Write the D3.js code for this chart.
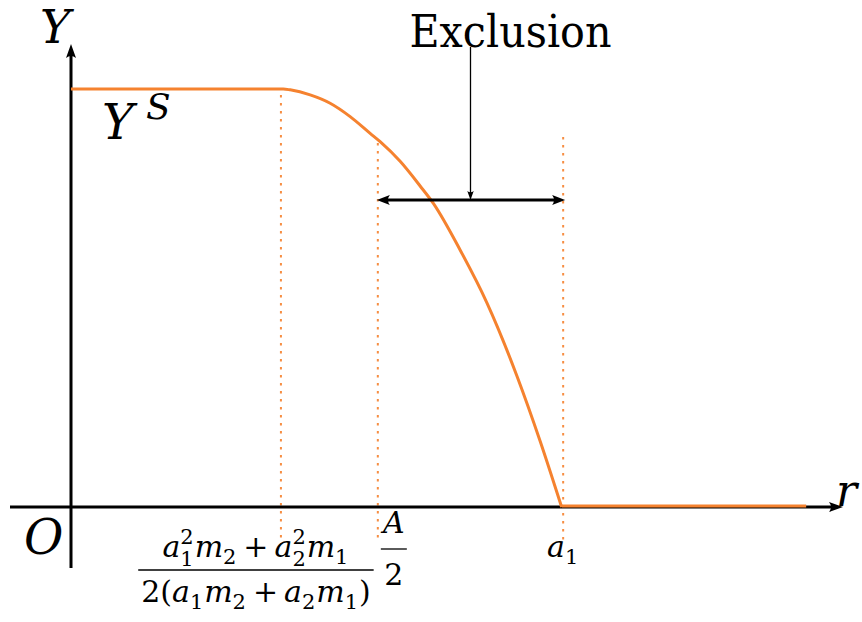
<!DOCTYPE html>
<html>
<head>
<meta charset="utf-8">
<script src="https://cdn.jsdelivr.net/npm/d3@7"></script>
<style>
  html, body { margin: 0; padding: 0; background: #fff; }
  svg { display: block; }
</style>
</head>
<body>
<svg id="chart" width="862" height="622"></svg>
<script>
// Saturated output profile Y(r): flat at Y^S, then falling to zero at a1.
const curveR = [0, 25.9, 27.6, 28.5, 31.1, 33.7, 36.3, 38.9, 40.2, 42.8, 45.4, 47.1, 50.6, 54.1, 58.0, 61.0, 63.8];
const curveY = [100, 100, 100, 99.8, 98.6, 96.6, 93.4, 89.4, 87.4, 82.7, 76.8, 72.7, 61.5, 48.8, 31.3, 15.8, 0];
const tailR = [63.8, 95.6];
const tailY = [0, 0];

// Reference positions on the r axis
const guideR = [27.3, 39.9, 64.0];
const exclusionR = [39.9, 64.0];
const ySat = 100;

const orange = "#f5822f";
const serif = "'DejaVu Serif', 'Liberation Serif', 'Noto Serif', serif";
const svg = d3.select("#chart");

const x = d3.scaleLinear().domain([0, 100]).range([71, 840]);
const y = d3.scaleLinear().domain([0, 100]).range([507, 89]);

// filled arrow head, tip at origin pointing +x
function headPath(len, half) {
  return `M0,0 L${-len},${-half} Q${-len * 0.72},0 ${-len},${half} Z`;
}
function arrowHead(px, py, angle, len, half) {
  svg.append("path")
    .attr("d", headPath(len, half))
    .attr("transform", `translate(${px},${py}) rotate(${angle})`)
    .attr("fill", "#000");
}
function label(txt, px, py, size, italic) {
  return svg.append("text").attr("x", px).attr("y", py)
    .attr("font-family", serif).style("font-family", serif)
    .style("font-size", size + "px").style("font-style", italic ? "italic" : "normal")
    .attr("fill", "#000").text(txt);
}

// dotted guides
const guideTop = [95, 143, 137];
svg.append("g").selectAll("line").data(guideR).join("line")
  .attr("x1", d => x(d)).attr("x2", d => x(d))
  .attr("y1", (d, i) => guideTop[i]).attr("y2", 541)
  .attr("stroke", orange).attr("stroke-opacity", 0.9)
  .attr("stroke-width", 2).attr("stroke-dasharray", "2.5,5.5");

// axes
const x0 = x(0), y0 = y(0);
svg.append("line").attr("x1", 10).attr("x2", 832).attr("y1", y0).attr("y2", y0)
  .attr("stroke", "#000").attr("stroke-width", 3);
arrowHead(843, y0, 0, 14, 5);
svg.append("line").attr("x1", x0).attr("x2", x0).attr("y1", 568).attr("y2", 56)
  .attr("stroke", "#000").attr("stroke-width", 3);
arrowHead(x0, 44, -90, 14, 5);

// curve
svg.append("path")
  .datum(d3.zip(curveR, curveY))
  .attr("d", d3.line().x(d => x(d[0])).y(d => y(d[1])).curve(d3.curveMonotoneX))
  .attr("fill", "none").attr("stroke", orange).attr("stroke-width", 3)
  .attr("stroke-linejoin", "round");
svg.append("path")
  .datum(d3.zip(tailR, tailY))
  .attr("d", d3.line().x(d => x(d[0])).y(d => y(d[1]) - 1))
  .attr("fill", "none").attr("stroke", orange).attr("stroke-width", 3);

// exclusion span
const ex1 = x(exclusionR[0]), ex2 = x(exclusionR[1]);
const exY = 200;
svg.append("line").attr("x1", ex1 + 8).attr("x2", ex2 - 8).attr("y1", exY).attr("y2", exY)
  .attr("stroke", "#000").attr("stroke-width", 3);
arrowHead(ex1 - 1, exY, 180, 13, 5);
arrowHead(ex2 + 2, exY, 0, 13, 5);
const exMid = (ex1 + ex2) / 2;
svg.append("line").attr("x1", exMid).attr("x2", exMid).attr("y1", 47).attr("y2", exY - 5)
  .attr("stroke", "#000").attr("stroke-width", 1.3);
arrowHead(exMid, exY, 90, 9, 3.2);

label("Exclusion", exMid + 40, 47, 44, false).attr("text-anchor", "middle")
  .attr("textLength", 202).attr("lengthAdjust", "spacingAndGlyphs");

// italic labels
label("Y", 40, 43, 46, true);
label("O", 24, 554, 48, true);
label("r", 836, 506, 44, true);
label("Y", 102, y(ySat) + 50, 48, true);
label("S", 146, y(ySat) + 30, 36, true);

// math row layout: items are {t, i} glyph runs or {sup, sub} scripts
function mathRow(g, items, size) {
  let cx = 0;
  const add = (txt, px, py, s, italic) => g.append("text").attr("x", px).attr("y", py)
    .attr("font-family", serif).style("font-family", serif)
    .style("font-size", s + "px").style("font-style", italic ? "italic" : "normal")
    .attr("fill", "#000").text(txt);
  items.forEach(d => {
    if (d.t !== undefined) {
      cx += d.lpad ? d.lpad * size : 0;
      const el = add(d.t, cx, 0, size, d.i);
      cx += el.node().getComputedTextLength() + (d.pad ? d.pad * size : 0);
    } else {
      let w = 0;
      const s = size * 0.7;
      if (d.sup) {
        const el = add(d.sup, cx, -0.42 * size, s, false);
        w = Math.max(w, el.node().getComputedTextLength());
      }
      if (d.sub) {
        const el = add(d.sub, cx, (d.sup ? 0.3 : 0.22) * size, s, false);
        w = Math.max(w, el.node().getComputedTextLength());
      }
      cx += w + 0.03 * size;
    }
  });
  return cx;
}
function centeredRow(items, size, cxCenter, baseline) {
  const g = svg.append("g");
  const w = mathRow(g, items, size);
  g.attr("transform", `translate(${cxCenter - w / 2},${baseline})`);
  return w;
}

const fs = 30;
const plus = { t: "+", lpad: 0.2, pad: 0.2 };
const fracCx = x(guideR[0]) - 25;
const wNum = centeredRow([
  { t: "a", i: true }, { sup: "2", sub: "1" }, { t: "m", i: true }, { sub: "2" }, plus,
  { t: "a", i: true }, { sup: "2", sub: "2" }, { t: "m", i: true }, { sub: "1" }
], fs, fracCx, 557);
const wDen = centeredRow([
  { t: "2(" }, { t: "a", i: true }, { sub: "1" }, { t: "m", i: true }, { sub: "2" }, plus,
  { t: "a", i: true }, { sub: "2" }, { t: "m", i: true }, { sub: "1" }, { t: ")" }
], fs, fracCx, 602);
const barW = Math.max(wNum, wDen) + 6;
svg.append("line").attr("x1", fracCx - barW / 2).attr("x2", fracCx + barW / 2)
  .attr("y1", 570).attr("y2", 570).attr("stroke", "#000").attr("stroke-width", 1.3);

// A / 2
const halfCx = x(guideR[1]) + 16;
centeredRow([{ t: "A", i: true }], fs, halfCx, 533);
centeredRow([{ t: "2" }], fs, halfCx, 585);
svg.append("line").attr("x1", halfCx - 13).attr("x2", halfCx + 13)
  .attr("y1", 549).attr("y2", 549).attr("stroke", "#000").attr("stroke-width", 1.3);

// a1
centeredRow([{ t: "a", i: true }, { sub: "1" }], fs, x(guideR[2]), 557);
</script>
</body>
</html>
